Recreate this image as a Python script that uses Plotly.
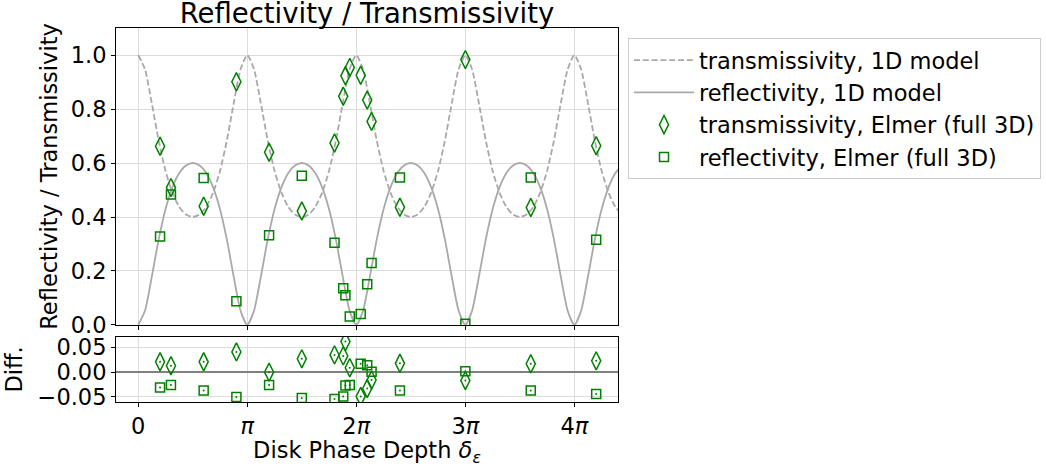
import math
import plotly.graph_objects as go
from plotly.subplots import make_subplots

# ---------------- data ----------------
# 1D model sampled every pi/16 (k = 0..71), values read from the picture
model_step_pi = 1 / 16
model_reflectivity = [
    0.000, 0.054, 0.180, 0.317, 0.429, 0.509, 0.562, 0.591, 0.600, 0.591, 0.562, 0.509, 0.429, 0.317, 0.180, 0.054,
    0.000, 0.054, 0.180, 0.317, 0.429, 0.509, 0.562, 0.591, 0.600, 0.591, 0.562, 0.509, 0.429, 0.317, 0.180, 0.054,
    0.000, 0.054, 0.180, 0.317, 0.429, 0.509, 0.562, 0.591, 0.600, 0.591, 0.562, 0.509, 0.429, 0.317, 0.180, 0.054,
    0.000, 0.054, 0.180, 0.317, 0.429, 0.509, 0.562, 0.591, 0.600, 0.591, 0.562, 0.509, 0.429, 0.317, 0.180, 0.054,
    0.000, 0.054, 0.180, 0.317, 0.429, 0.509, 0.562, 0.591,
]
model_transmissivity = [
    1.000, 0.946, 0.820, 0.683, 0.571, 0.491, 0.438, 0.409, 0.400, 0.409, 0.438, 0.491, 0.571, 0.683, 0.820, 0.946,
    1.000, 0.946, 0.820, 0.683, 0.571, 0.491, 0.438, 0.409, 0.400, 0.409, 0.438, 0.491, 0.571, 0.683, 0.820, 0.946,
    1.000, 0.946, 0.820, 0.683, 0.571, 0.491, 0.438, 0.409, 0.400, 0.409, 0.438, 0.491, 0.571, 0.683, 0.820, 0.946,
    1.000, 0.946, 0.820, 0.683, 0.571, 0.491, 0.438, 0.409, 0.400, 0.409, 0.438, 0.491, 0.571, 0.683, 0.820, 0.946,
    1.000, 0.946, 0.820, 0.683, 0.571, 0.491, 0.438, 0.409,
]
model_phase = [k * model_step_pi * math.pi for k in range(len(model_reflectivity))]

# Elmer (full 3D) simulation points, phase in units of pi
elmer_phase_pi = [0.2, 0.3, 0.6, 0.9, 1.2, 1.5, 1.8, 1.88, 1.9, 1.94, 2.04, 2.1, 2.14, 2.4, 3.0, 3.6, 4.2]
elmer_transmissivity = [0.662, 0.509, 0.440, 0.901, 0.640, 0.422, 0.674, 0.847, 0.923, 0.954,
                        0.925, 0.833, 0.754, 0.436, 0.983, 0.435, 0.664]
elmer_reflectivity = [0.328, 0.483, 0.544, 0.088, 0.332, 0.553, 0.305, 0.136, 0.110, 0.031,
                      0.041, 0.151, 0.230, 0.546, 0.005, 0.546, 0.316]
diff_transmissivity = [0.021, 0.013, 0.021, 0.041, 0.000, 0.027, 0.035, 0.033, 0.062, 0.009,
                       -0.049, -0.033, -0.016, 0.018, -0.017, 0.017, 0.023]
diff_reflectivity = [-0.031, -0.026, -0.037, -0.050, -0.026, -0.052, -0.054, -0.049, -0.027, -0.026,
                     0.017, 0.014, 0.001, -0.037, 0.002, -0.037, -0.044]

tick_multiples = [0, 1, 2, 3, 4]
tick_labels = ["0", "<i>π</i>", "2<i>π</i>", "3<i>π</i>", "4<i>π</i>"]

elmer_phase = [v * math.pi for v in elmer_phase_pi]
tick_vals = [m * math.pi for m in tick_multiples]

# ---------------- figure ----------------
GREEN = "#008000"
GRAY = "#a9a9a9"
FONT = "DejaVu Sans"
FS = 22.5

fig = make_subplots(rows=2, cols=1, shared_xaxes=True, vertical_spacing=0.0)

fig.add_trace(go.Scatter(x=model_phase, y=model_transmissivity, mode="lines",
                         line=dict(color=GRAY, width=1.8, dash="6px,2.8px", shape="spline", smoothing=0.6),
                         name="transmissivity, 1D model"), row=1, col=1)
fig.add_trace(go.Scatter(x=model_phase, y=model_reflectivity, mode="lines",
                         line=dict(color=GRAY, width=1.8, shape="spline", smoothing=0.6),
                         name="reflectivity, 1D model"), row=1, col=1)
fig.add_trace(go.Scatter(x=elmer_phase, y=elmer_transmissivity, mode="markers",
                         marker=dict(symbol="diamond-tall-open", size=13, color=GREEN, line=dict(width=1.5, color=GREEN)),
                         name="transmissivity, Elmer (full 3D)"), row=1, col=1)
fig.add_trace(go.Scatter(x=elmer_phase, y=elmer_reflectivity, mode="markers",
                         marker=dict(symbol="square-open", size=9, color=GREEN, line=dict(width=1.5, color=GREEN)),
                         name="reflectivity, Elmer (full 3D)"), row=1, col=1)

fig.add_trace(go.Scatter(x=elmer_phase, y=diff_transmissivity, mode="markers",
                         marker=dict(symbol="diamond-tall-open", size=13, color=GREEN, line=dict(width=1.5, color=GREEN)),
                         showlegend=False), row=2, col=1)
fig.add_trace(go.Scatter(x=elmer_phase, y=diff_reflectivity, mode="markers",
                         marker=dict(symbol="square-open", size=9, color=GREEN, line=dict(width=1.5, color=GREEN)),
                         showlegend=False), row=2, col=1)
fig.add_trace(go.Scatter(x=elmer_phase + elmer_phase, y=diff_transmissivity + diff_reflectivity, mode="markers",
                         marker=dict(symbol="circle", size=2, color=GREEN),
                         showlegend=False), row=2, col=1)

x_range = [-0.204 * math.pi, 4.40 * math.pi]
axis_common = dict(showline=True, linecolor="black", linewidth=1, mirror=True,
                   ticks="outside", ticklen=4, tickcolor="black", automargin=False,
                   showgrid=True, gridcolor="#dcdcdc", gridwidth=1, zeroline=False,
                   tickfont=dict(family=FONT, size=FS, color="black"))

fig.update_xaxes(range=x_range, tickvals=tick_vals, ticktext=tick_labels, **axis_common)
fig.update_xaxes(showticklabels=False, row=1, col=1)
fig.update_xaxes(title=dict(text="Disk Phase Depth <i>δ</i><sub><i>ε</i></sub>",
                            font=dict(family=FONT, size=FS, color="black"), standoff=2), row=2, col=1)

fig.update_yaxes(range=[0, 1.1], tickvals=[0, 0.2, 0.4, 0.6, 0.8, 1.0], tickformat=".1f",
                 title=dict(text="Reflectivity / Transmissivity", font=dict(family=FONT, size=FS, color="black"),
                            standoff=6),
                 row=1, col=1, **axis_common)
axis2 = dict(axis_common)
axis2["zeroline"] = True
axis2["zerolinecolor"] = "#808080"
axis2["zerolinewidth"] = 1.5
fig.update_yaxes(range=[-0.0603, 0.0712], tickvals=[-0.05, 0.0, 0.05], tickformat=".2f",
                 title=dict(text="Diff.", font=dict(family=FONT, size=FS, color="black"), standoff=8),
                 row=2, col=1, **axis2)

fig.update_layout(
    width=1046, height=467,
    margin=dict(l=116, r=428, t=28, b=65, autoexpand=False),
    paper_bgcolor="white", plot_bgcolor="white",
    font=dict(family=FONT, size=FS, color="black"),
    title=dict(text="Reflectivity / Transmissivity", x=0.5, xref="paper", xanchor="center",
               y=0.991, yref="container", yanchor="top", font=dict(family=FONT, size=27.5, color="black")),
    legend=dict(x=628 / 1046, y=1 - 38 / 467, xref="container", yref="container",
                xanchor="left", yanchor="top", itemwidth=60,
                bordercolor="#cccccc", borderwidth=1, bgcolor="white",
                font=dict(family=FONT, size=FS, color="black"), tracegroupgap=0),
    showlegend=True,
)
fig.layout.yaxis.domain = [0.2059, 1.0]
fig.layout.yaxis2.domain = [0.0, 0.1738]

fig.write_html("out.html", config={"displayModeBar": False},
               post_script="document.body.style.margin='0px';")
